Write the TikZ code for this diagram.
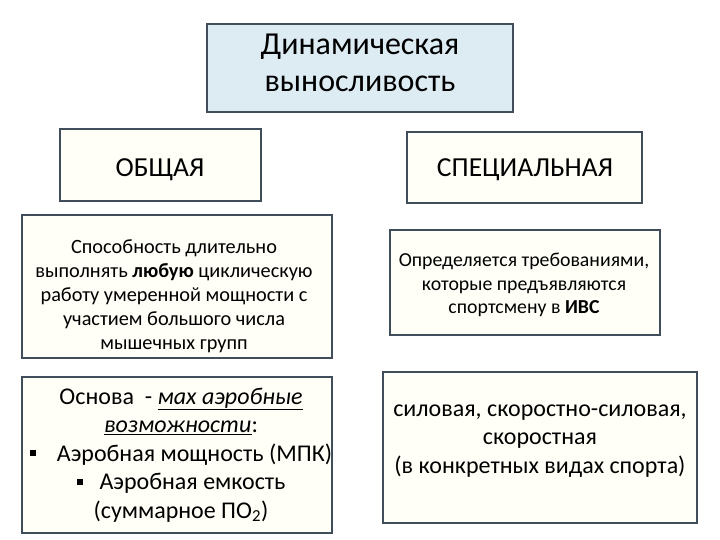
\documentclass[tikz,border=0pt]{standalone}
\usepackage{fontspec}
\setmainfont{Carlito}
\definecolor{edge}{HTML}{404D5B}
\definecolor{topfill}{HTML}{DDEBF3}
\definecolor{boxfill}{HTML}{FFFFF8}
\newcommand{\sqbul}{\raisebox{0.2em}{\rule{6pt}{6pt}}}
\tikzset{
  box/.style={draw=edge, line width=1.8pt, fill=boxfill, inner sep=0pt},
  txt/.style={align=center, inner sep=0pt, text=black}
}
\begin{document}
\begin{tikzpicture}[x=1pt,y=-1pt]
\useasboundingbox (0,0) rectangle (720,540);
% boxes
\node[box, fill=topfill, minimum width=306pt, minimum height=88pt] (top) at (360,68) {};
\node[box, minimum width=201pt, minimum height=72pt] (gen) at (160.5,165) {};
\node[box, minimum width=235pt, minimum height=71pt] (spec) at (524.5,167.5) {};
\node[box, minimum width=310pt, minimum height=143pt] (gdesc) at (177,286.5) {};
\node[box, minimum width=270pt, minimum height=105pt] (sdesc) at (525,282.5) {};
\node[box, minimum width=310pt, minimum height=156pt] (gbase) at (177,455) {};
\node[box, minimum width=314pt, minimum height=151pt] (stype) at (540,447.5) {};
% texts
\node[txt, font=\fontsize{32}{37}\selectfont] (toptxt) at (360,63) {Динамическая\\выносливость};
\node[txt, font=\fontsize{27.5}{30}\selectfont] (gentxt) at (160,170) {ОБЩАЯ};
\node[txt, font=\fontsize{27.5}{30}\selectfont] (spectxt) at (525,170) {СПЕЦИАЛЬНАЯ};
\node[txt, font=\fontsize{20.3}{24}\selectfont] (gdesctxt) at (174,296) {Способность длительно\\выполнять \textbf{любую} циклическую\\работу умеренной мощности с\\участием большого числа\\мышечных групп};
\node[txt, font=\fontsize{19.8}{23.5}\selectfont] (sdesctxt) at (524,285) {Определяется требованиями,\\которые предъявляются\\спортсмену в \textbf{ИВС}};
\node[txt, font=\fontsize{24}{28.5}\selectfont] (gbasetxt) at (181,455) {Основа~~- \underline{\textit{мах аэробные}}\\\underline{\textit{возможности}}:\\\sqbul\hspace{21pt}Аэробная мощность (МПК)\\\sqbul\hspace{17pt}Аэробная емкость\\(суммарное ПО\textsubscript{2})};
\node[txt, font=\fontsize{24}{28.5}\selectfont] (stypetxt) at (540,441) {силовая, скоростно-силовая,\\скоростная\\(в конкретных видах спорта)};
\end{tikzpicture}
\end{document}
